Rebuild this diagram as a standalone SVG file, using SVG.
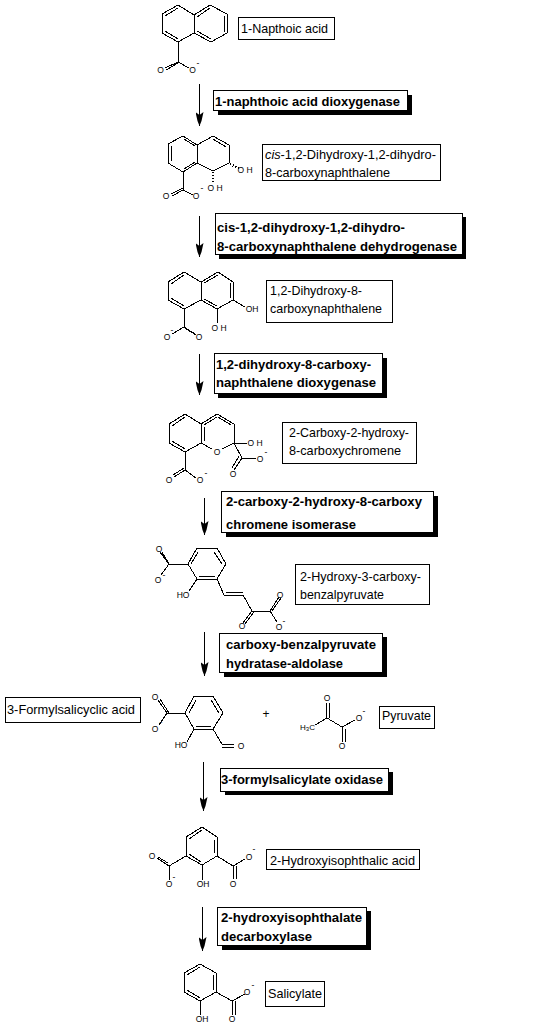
<svg xmlns="http://www.w3.org/2000/svg" width="548" height="1025" viewBox="0 0 548 1025">
<style>
text{font-family:"Liberation Sans",Arial,sans-serif;fill:#000}
.l{font-size:13px}
.e{font-size:13px;font-weight:bold}
.a{font-size:8.5px;text-anchor:middle;opacity:.99}
.b{fill:none;stroke:#000;stroke-width:1;shape-rendering:crispEdges}
.h{fill:none;stroke:#000;stroke-width:2.5;stroke-dasharray:1 2;shape-rendering:crispEdges}
.box{fill:#fff;stroke:#000;stroke-width:1;shape-rendering:crispEdges}
.sh{fill:#000;shape-rendering:crispEdges}
.w{stroke:#000;stroke-width:1;fill:none;shape-rendering:crispEdges}
</style>
<defs>
<marker id="ad" markerUnits="userSpaceOnUse" markerWidth="15" markerHeight="8" refX="14" refY="4" orient="auto" viewBox="0 0 15 8"><path d="M0 0L3 4L0 8L9 6L14 4L9 2Z" fill="#000"/></marker>
</defs>
<rect id="background" width="548" height="1025" fill="#fff"/>
<g id="connectors" class="w">
<line x1="199.500" y1="84" x2="199.500" y2="126" marker-end="url(#ad)"/>
<line x1="199.500" y1="216" x2="199.500" y2="257" marker-end="url(#ad)"/>
<line x1="199.500" y1="354" x2="199.500" y2="395" marker-end="url(#ad)"/>
<line x1="204.500" y1="498" x2="204.500" y2="535" marker-end="url(#ad)"/>
<line x1="204.500" y1="632" x2="204.500" y2="676" marker-end="url(#ad)"/>
<line x1="203.500" y1="762" x2="203.500" y2="811" marker-end="url(#ad)"/>
<line x1="202.500" y1="907" x2="202.500" y2="951" marker-end="url(#ad)"/>
</g>
<g id="mol-1">
<path class="b" d="M178 5L194 15V33L178 42L162 33V14ZM194 15L210 5L227 14V33L211 42L194 33M178 42V62L165 68M178 62L189 68M166 70L178 63M165 16L178 8M165 31L178 39M197 17L210 8M224 16V32M197 31L211 39"/>
<text class="a" x="160.500" y="73">O</text><text class="a" x="192.500" y="73">O</text><text class="a" x="198" y="66">-</text>
</g>
<g id="label-1"><rect class="box" x="238.500" y="17.500" width="96" height="22"/><text class="l" x="241" y="33" textLength="87" lengthAdjust="spacingAndGlyphs">1-Napthoic acid</text></g>
<g id="enzyme-1"><rect class="sh" x="218" y="95" width="194" height="20"/><rect class="box" x="213.500" y="90.500" width="194" height="20"/><text class="e" x="215" y="106" textLength="185" lengthAdjust="spacingAndGlyphs">1-naphthoic acid dioxygenase</text></g>
<g id="mol-2">
<path class="b" d="M183 136L197 145V163L183 172L168 163V144ZM197 145L213 136L229 145V163L213 171L197 163M183 172V190L172 196M183 190L193 195M171 194L183 188M184 139L195 146M171 146V161M195 162L184 169M213 139L226 147"/>
<path class="h" d="M230 164L240 169M213 172V182"/>
<text class="a" x="245" y="173">O H</text><text class="a" x="215" y="191">O H</text><text class="a" x="166" y="199">O</text><text class="a" x="196" y="199">O</text><text class="a" x="202" y="191">-</text>
</g>
<g id="label-2"><rect class="box" x="262.500" y="144.500" width="178" height="36"/><text class="l" x="265" y="159" textLength="171" lengthAdjust="spacingAndGlyphs"><tspan font-style="italic">cis</tspan>-1,2-Dihydroxy-1,2-dihydro-</text><text class="l" x="265" y="177" textLength="125" lengthAdjust="spacingAndGlyphs">8-carboxynaphthalene</text></g>
<g id="enzyme-2"><rect class="sh" x="219" y="217" width="247" height="42"/><rect class="box" x="215.500" y="213.500" width="247" height="41"/><text class="e" x="217" y="232" textLength="188" lengthAdjust="spacingAndGlyphs">cis-1,2-dihydroxy-1,2-dihydro-</text><text class="e" x="217" y="251" textLength="240" lengthAdjust="spacingAndGlyphs">8-carboxynaphthalene dehydrogenase</text></g>
<g id="mol-3">
<path class="b" d="M184 272L201 282V300L184 309L168 300V282ZM201 282L218 272L233 282V300L217 309L201 300M233 300L245 307M217 309V323M184 309V327L172 334M184 327L195 334M171 284L184 275M171 298L184 306M204 283L218 275M204 299L217 306M230 283V298M186 329L196 335"/>
<text class="a" x="252" y="312">OH</text><text class="a" x="219" y="331">O H</text><text class="a" x="167" y="340">O</text><text class="a" x="172" y="333">-</text><text class="a" x="199" y="340">O</text>
</g>
<g id="label-3"><rect class="box" x="266.500" y="280.500" width="126" height="42"/><text class="l" x="270" y="295" textLength="92" lengthAdjust="spacingAndGlyphs">1,2-Dihydroxy-8-</text><text class="l" x="270" y="313" textLength="112" lengthAdjust="spacingAndGlyphs">carboxynaphthalene</text></g>
<g id="enzyme-3"><rect class="sh" x="218" y="358" width="169" height="40"/><rect class="box" x="214.500" y="353.500" width="168" height="40"/><text class="e" x="216" y="369" textLength="155" lengthAdjust="spacingAndGlyphs">1,2-dihydroxy-8-carboxy-</text><text class="e" x="216" y="387" textLength="160" lengthAdjust="spacingAndGlyphs">naphthalene dioxygenase</text></g>
<g id="mol-4">
<path class="b" d="M185 414L201 424V443L185 452L169 443V424ZM201 424L217 414L234 424V443L222 449M212 449L201 443M234 443H247M234 443L242 458H256M242 458L234 470M239 456L232 468M185 452V470L174 477M185 470L196 478M172 426L185 417M172 441L185 449M204 425L217 417M218 417L231 425M204 441V427M173 475L184 468"/>
<text class="a" x="217" y="455">O</text><text class="a" x="255" y="446">O H</text><text class="a" x="260" y="462">O</text><text class="a" x="266" y="455">-</text><text class="a" x="233" y="477">O</text><text class="a" x="169" y="483">O</text><text class="a" x="200" y="483">O</text><text class="a" x="206" y="476">-</text>
</g>
<g id="label-4"><rect class="box" x="282.500" y="422.500" width="134" height="41"/><text class="l" x="289" y="437" textLength="120" lengthAdjust="spacingAndGlyphs">2-Carboxy-2-hydroxy-</text><text class="l" x="289" y="455" textLength="112" lengthAdjust="spacingAndGlyphs">8-carboxychromene</text></g>
<g id="enzyme-4"><rect class="sh" x="226" y="496" width="212" height="41"/><rect class="box" x="221.500" y="491.500" width="212" height="41"/><text class="e" x="226" y="506" textLength="196" lengthAdjust="spacingAndGlyphs">2-carboxy-2-hydroxy-8-carboxy</text><text class="e" x="226" y="529" textLength="130" lengthAdjust="spacingAndGlyphs">chromene isomerase</text></g>
<g id="mol-5">
<path class="b" d="M197 548H217L226 564L217 579H197L188 564ZM188 564H169L162 552M169 564L160 552M169 564L161 575M197 579L189 591M217 579L224 595H243L252 611H270L279 597M270 611L277 622M252 611L243 623M254 612L245 624M272 611L281 598M198 552L191 564M214 552L222 564M199 576H215M226 592H243"/>
<text class="a" x="159" y="552">O</text><text class="a" x="158" y="583">O</text><text class="a" x="164" y="578">-</text><text class="a" x="183" y="598">HO</text><text class="a" x="280" y="598">O</text><text class="a" x="242" y="629">O</text><text class="a" x="279" y="630">O</text><text class="a" x="284" y="624">-</text>
</g>
<g id="label-5"><rect class="box" x="295.500" y="564.500" width="134" height="40"/><text class="l" x="300" y="581" textLength="121" lengthAdjust="spacingAndGlyphs">2-Hydroxy-3-carboxy-</text><text class="l" x="300" y="599" textLength="84" lengthAdjust="spacingAndGlyphs">benzalpyruvate</text></g>
<g id="enzyme-5"><rect class="sh" x="224" y="637" width="163" height="40"/><rect class="box" x="219.500" y="633.500" width="163" height="39"/><text class="e" x="226" y="649" textLength="150" lengthAdjust="spacingAndGlyphs">carboxy-benzalpyruvate</text><text class="e" x="226" y="668" textLength="117" lengthAdjust="spacingAndGlyphs">hydratase-aldolase</text></g>
<g id="label-6"><rect class="box" x="5.500" y="697.500" width="135" height="25"/><text class="l" x="7" y="714" textLength="128" lengthAdjust="spacingAndGlyphs">3-Formylsalicyclic acid</text></g>
<g id="mol-6">
<path class="b" d="M194 696H213L223 713L213 729H194L185 713ZM185 713H167L158 700M169 713L160 699M167 713L159 725M194 729L187 742M213 729L222 744H234M222 747H234M196 700L189 713M211 700L219 713M196 726H211"/>
<text class="a" x="155" y="700">O</text><text class="a" x="155" y="732">O</text><text class="a" x="161" y="725">-</text><text class="a" x="181" y="748">HO</text><text class="a" x="241" y="749">O</text>
</g>
<text id="plus" x="266" y="718" font-size="12" text-anchor="middle" opacity=".99">+</text>
<g id="mol-7">
<path class="b" d="M326 703V718M329 703V718M327 718L342 727L355 720M327 718L315 725M342 727V742M345 729V742"/>
<text class="a" x="327" y="701">O</text><text x="300" y="730" font-size="8" opacity=".99">H<tspan font-size="6" dy="1">3</tspan><tspan dy="-1">C</tspan></text><text class="a" x="359" y="721">O</text><text class="a" x="364" y="714">-</text><text class="a" x="342" y="749">O</text>
</g>
<g id="label-7"><rect class="box" x="379.500" y="706.500" width="55" height="22"/><text class="l" x="382" y="720" textLength="49" lengthAdjust="spacingAndGlyphs">Pyruvate</text></g>
<g id="enzyme-6"><rect class="sh" x="225" y="772" width="168" height="23"/><rect class="box" x="220.500" y="768.500" width="168" height="23"/><text class="e" x="221" y="784" textLength="162" lengthAdjust="spacingAndGlyphs">3-formylsalicylate oxidase</text></g>
<g id="mol-8">
<path class="b" d="M202 827L217 837V856L202 865L186 856V837ZM217 856L233 866L245 859M233 866V879M236 866V879M186 856L169 866L157 858M168 863L158 857M169 866V880M202 865V880M189 839L202 830M214 840V853M189 854L201 862"/>
<text class="a" x="249" y="860">O</text><text class="a" x="254" y="852">-</text><text class="a" x="233" y="887">O</text><text class="a" x="152" y="859">O</text><text class="a" x="169" y="887">O</text><text class="a" x="174" y="880">-</text><text class="a" x="203" y="887">OH</text>
</g>
<g id="label-8"><rect class="box" x="266.500" y="849.500" width="153" height="20"/><text class="l" x="270" y="865" textLength="145" lengthAdjust="spacingAndGlyphs">2-Hydroxyisophthalic acid</text></g>
<g id="enzyme-7"><rect class="sh" x="222" y="911" width="149" height="39"/><rect class="box" x="217.500" y="907.500" width="149" height="38"/><text class="e" x="221" y="922" textLength="141" lengthAdjust="spacingAndGlyphs">2-hydroxyisophthalate</text><text class="e" x="221" y="941" textLength="91" lengthAdjust="spacingAndGlyphs">decarboxylase</text></g>
<g id="mol-9">
<path class="b" d="M200 964L216 973V992L200 1001L184 992V973ZM216 992L232 1001L245 994M232 1001V1015M235 1001V1015M200 1001V1015M187 975L200 967M213 975V990M187 990L200 998"/>
<text class="a" x="247" y="995">O</text><text class="a" x="253" y="988">-</text><text class="a" x="232" y="1022">O</text><text class="a" x="202" y="1022">OH</text>
</g>
<g id="label-9"><rect class="box" x="265.500" y="981.500" width="59" height="25"/><text class="l" x="268" y="998" textLength="54" lengthAdjust="spacingAndGlyphs">Salicylate</text></g>
</svg>
